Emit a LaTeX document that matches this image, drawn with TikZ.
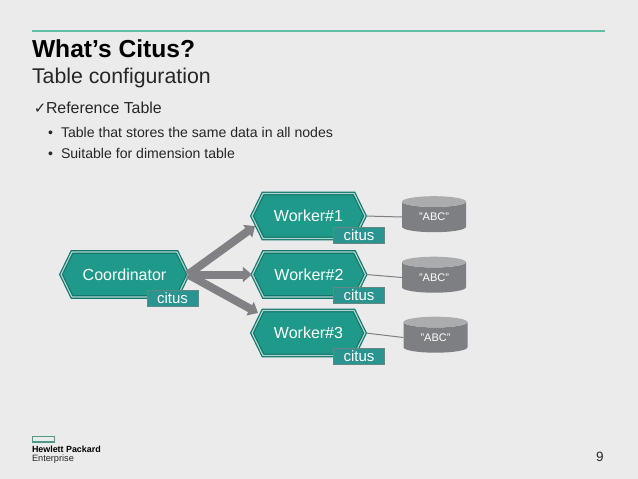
\documentclass[tikz,border=0pt]{standalone}
\usepackage{fontspec}
\setmainfont{Liberation Sans}
\newfontfamily\symfont{DejaVu Sans}
\usetikzlibrary{shapes.symbols,shapes.geometric,arrows.meta}
\definecolor{pagebg}{HTML}{EBEBEB}
\definecolor{hexteal}{HTML}{1F9A8A}
\definecolor{hexdark}{HTML}{12766A}
\definecolor{tagteal}{HTML}{2A9490}
\definecolor{rulegreen}{HTML}{62BFA6}
\definecolor{cylgray}{HTML}{7E7F82}
\definecolor{cyltop}{HTML}{ABACAE}
\definecolor{arrowgray}{HTML}{818185}
\definecolor{inktext}{HTML}{262626}
\newcommand{\fs}[1]{\fontsize{#1}{#1}\selectfont}
\tikzset{
  x=1pt,y=-1pt,
  txt/.style={anchor=base west,inner sep=0pt,outer sep=0pt,text=inktext},
  hexnode/.style={shape=signal,signal to=east and west,signal pointer angle=128,
    draw=hexdark,line width=1.2pt,double=pagebg!70!hexteal,double distance=1.2pt,fill=hexteal,
    minimum width=#1,minimum height=45pt,inner sep=0pt,text=white,font=\fs{16}},
  tagbox/.style={draw=gray!70!hexteal,line width=0.6pt,fill=tagteal,text=white,minimum width=51pt,minimum height=16pt,
    inner sep=0pt,font=\fs{15}},
  dbcyl/.style={shape=cylinder,shape border rotate=90,aspect=0.36,draw=none,
    cylinder uses custom fill,cylinder body fill=cylgray,cylinder end fill=cyltop,
    minimum width=64pt,minimum height=36pt,inner sep=0pt,text=white,font=\fs{11}},
  fat/.style={draw=arrowgray,line width=8pt,-{Triangle[length=9pt,width=15pt]}},
  thin/.style={draw=cylgray,line width=1pt},
}
\begin{document}
\begin{tikzpicture}
\useasboundingbox[fill=pagebg] (0,0) rectangle (638,479);
\coordinate (ruleL) at (32,31); \coordinate (ruleR) at (605,31);
\draw[rulegreen,line width=1.4pt] (ruleL) -- (ruleR);
\node[txt,font=\fs{24.6}\bfseries,text=black] (title) at (32,57) {What’s Citus?};
\node[txt,font=\fs{21.3}] (sub) at (32,83) {Table configuration};
\node[txt,font=\fs{15}\symfont] (chk) at (34,113) {✓};
\node[txt,font=\fs{15.9}] (ref) at (46,113) {Reference Table};
\node[txt,font=\fs{14}] (b1d) at (48,137) {•};
\node[txt,font=\fs{14.1}] (b1) at (61,137) {Table that stores the same data in all nodes};
\node[txt,font=\fs{14}] (b2d) at (48,158) {•};
\node[txt,font=\fs{14.1}] (b2) at (61,158) {Suitable for dimension table};

\node[hexnode=127pt] (coord) at (124.5,274.5) {Coordinator};
\node[hexnode=113pt] (w1) at (308.5,216) {Worker\#1};
\node[hexnode=113pt] (w2) at (309,274.5) {Worker\#2};
\node[hexnode=113pt] (w3) at (308.5,333) {Worker\#3};
\node[tagbox] (tc) at (172.5,298) {citus};
\node[tagbox] (t1) at (359,235) {citus};
\node[tagbox] (t2) at (359,295) {citus};
\node[tagbox] (t3) at (359,356) {citus};
\node[dbcyl] (d1) at (434,217) {"ABC"};
\node[dbcyl] (d2) at (434,277.5) {"ABC"};
\node[dbcyl] (d3) at (435.5,337.5) {"ABC"};
\draw[thin] (w1.east) -- (d1.west);
\draw[thin] (w2.east) -- (d2.west);
\draw[thin] (w3.east) -- (d3.west);
\coordinate (a0) at (188,274.5);
\coordinate (a1) at (255,226);
\coordinate (a3) at (258,313);
\draw[fat] (a0) -- (a1);
\draw[fat] (a0) -- (w2.west);
\draw[fat] (a0) -- (a3);

\draw[rulegreen!80!black,line width=1.3pt] (32.7,436.5) rectangle (54.5,442) node[midway,inner sep=0pt] (logo) {};
\node[txt,font=\fs{8.9}\bfseries,text=black] (hp) at (32,452) {Hewlett Packard};
\node[txt,font=\fs{9.2},text=inktext] (ent) at (32,461) {Enterprise};
\node[txt,font=\fs{13.5}] (page) at (596,461) {9};
\end{tikzpicture}
\end{document}
